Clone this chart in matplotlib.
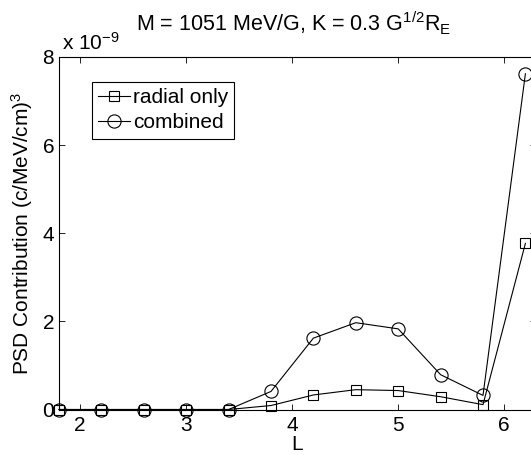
import numpy as np
import matplotlib
matplotlib.use("Agg")
import matplotlib.pyplot as plt

plt.rcParams['font.family'] = ['Liberation Sans', 'DejaVu Sans']
plt.rcParams['mathtext.fontset'] = 'custom'
plt.rcParams['mathtext.rm'] = 'Liberation Sans'
plt.rcParams['mathtext.it'] = 'Liberation Sans'
plt.rcParams['mathtext.default'] = 'regular'

# Data (PSD contribution, in units of 1e-9)
L = [1.8, 2.2, 2.6, 3.0, 3.4, 3.8, 4.2, 4.6, 5.0, 5.4, 5.8, 6.2]
radial_only = [0, 0, 0, 0, 0, 0.09, 0.33, 0.45, 0.43, 0.29, 0.11, 3.77]
combined = [0, 0, 0, 0, 0, 0.41, 1.62, 1.97, 1.83, 0.79, 0.32, 7.62]

W, H = 531, 455
fs = 15
fig = plt.figure(figsize=(W / 100, H / 100), dpi=100)

# axes box runs past the right edge of the picture (cropped original)
ax_l, ax_r, ax_t, ax_b = 59, 536, 57, 409.5
ax = fig.add_axes([ax_l / W, 1 - ax_b / H, (ax_r - ax_l) / W, (ax_b - ax_t) / H])

ax.plot(L, radial_only, color='k', lw=0.8, marker='s', ms=7.5,
        mfc='none', mec='k', mew=0.8, label='radial only', clip_on=False)
ax.plot(L, combined, color='k', lw=0.8, marker='o', ms=9.5,
        mfc='none', mec='k', mew=0.8, label='combined', clip_on=False)

ax.set_xlim(1.8, 6.3)
ax.set_ylim(0, 8)
ax.set_xticks([2, 3, 4, 5, 6])
ax.set_yticks([0, 2, 4, 6, 8])
ax.tick_params(direction='in', length=4, width=0.6, top=True, right=True,
               labelsize=fs)
ax.tick_params(axis='x', pad=5)
ax.tick_params(axis='y', pad=3.5)
for s in ax.spines.values():
    s.set_linewidth(0.8)

ax.set_xlabel('L', fontsize=fs)
ax.xaxis.set_label_coords(0.5, -(445 - ax_b) / (ax_b - ax_t))
ax.xaxis.label.set_va('center')
ax.set_ylabel('PSD Contribution (c/MeV/cm)$^3$', fontsize=fs)
ax.yaxis.set_label_coords((22 - ax_l) / (ax_r - ax_l), 0.5)
ax.yaxis.label.set_va('center')

fig.text(293.5 / W, 1 - 31 / H, 'M = 1051 MeV/G, K = 0.3 G$^{1/2}$R$_E$',
         ha='center', va='baseline', fontsize=15.5)
fig.text(62 / W, 1 - 50 / H, 'x 10$^{-9}$', ha='left', va='baseline',
         fontsize=15)

leg = ax.legend(loc='upper left',
                bbox_to_anchor=((92 - ax_l) / (ax_r - ax_l),
                                (ax_b - 82) / (ax_b - ax_t)),
                borderaxespad=0, fancybox=False, edgecolor='k',
                fontsize=fs, handlelength=1.5, handletextpad=0.15,
                labelspacing=0.3, borderpad=0.3, framealpha=1)
leg.get_frame().set_linewidth(0.8)

fig.savefig('out.png', dpi=100)
